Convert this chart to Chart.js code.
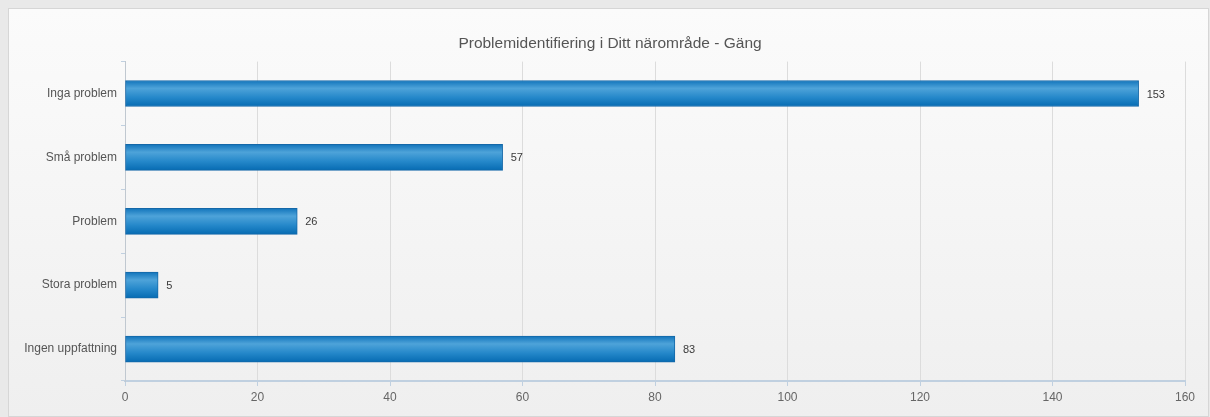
<!DOCTYPE html>
<html>
<head>
<meta charset="utf-8">
<script src="https://cdn.jsdelivr.net/npm/chart.js@4"></script>
<style>
	body {
		margin: 0;
		width: 1210px;
		height: 417px;
		background: #e9e9e9;
		overflow: hidden;
		font-family: "Liberation Sans", Arial, sans-serif;
	}
	.panel {
		position: absolute;
		left: 8px;
		top: 8px;
		width: 1199px;
		height: 407px;
		border: 1px solid #d6d6d6;
		background: linear-gradient(#fbfbfb, #efefef);
	}
	#chart {
		position: absolute;
		left: 0;
		top: 0;
	}
</style>
</head>
<body>
<div class="panel"></div>
<canvas id="chart" width="1210" height="417"></canvas>
<script>
// Data
const categories = ["Inga problem", "Små problem", "Problem", "Stora problem", "Ingen uppfattning"];
const answers = [153, 57, 26, 5, 83];
const xTicks = [0, 20, 40, 60, 80, 100, 120, 140, 160];
const chartTitle = "Problemidentifiering i Ditt närområde - Gäng";

const fontFamily = "'Liberation Sans', Arial, sans-serif";

// Vertical gradient per bar, like the glossy blue bars in the original
function barGradient(context) {
	const chart = context.chart;
	if (!chart.chartArea || !chart.scales.y) return "#1f82c6";
	const y = chart.scales.y.getPixelForValue(context.dataIndex);
	const top = y - 13;
	const g = chart.ctx.createLinearGradient(0, top, 0, top + 26);
	g.addColorStop(0, "#1174bb");
	g.addColorStop(0.3, "#4ea3d9");
	g.addColorStop(0.65, "#2588ca");
	g.addColorStop(1, "#066bb2");
	return g;
}

// Value labels at the end of each bar
const valueLabels = {
	id: "valueLabels",
	afterDatasetsDraw(chart) {
		const ctx = chart.ctx;
		const meta = chart.getDatasetMeta(0);
		ctx.save();
		ctx.font = "11px " + fontFamily;
		ctx.fillStyle = "#3a3a3a";
		ctx.textBaseline = "middle";
		ctx.textAlign = "left";
		meta.data.forEach((bar, i) => {
			ctx.fillText(answers[i], bar.x + 8, bar.y + 1);
		});
		ctx.restore();
	},
};

const ctx = document.getElementById("chart").getContext("2d");
const chart = new Chart(ctx, {
	type: "bar",
	data: {
		labels: categories,
		datasets: [
			{
				data: answers,
				backgroundColor: barGradient,
				borderColor: "#1468a8",
				borderWidth: 1,
				borderSkipped: false,
				barThickness: 26,
			},
		],
	},
	options: {
		indexAxis: "y",
		responsive: false,
		animation: false,
		layout: {
			padding: { left: 10, right: 0, top: 0, bottom: 0 },
		},
		plugins: {
			legend: { display: false },
			tooltip: { enabled: false },
			title: {
				display: true,
				text: chartTitle,
				color: "#555555",
				font: { size: 15.5, weight: "normal", family: fontFamily },
				padding: { top: 34, bottom: 9 },
			},
		},
		scales: {
			x: {
				min: 0,
				max: 160,
				afterBuildTicks: (axis) => {
					axis.ticks = xTicks.map((v) => ({ value: v }));
				},
				afterFit: (axis) => {
					axis.height = 36;
				},
				grid: {
					color: "#dcdcdc",
					tickColor: "#c0d0e0",
					tickLength: 5,
				},
				border: { color: "#c0d0e0", width: 2 },
				ticks: {
					color: "#666666",
					padding: 4,
					font: { size: 12, family: fontFamily },
				},
			},
			y: {
				afterFit: (axis) => {
					axis.width = 115;
				},
				grid: {
					offset: true,
					drawOnChartArea: false,
					tickColor: "#c0d0e0",
					tickLength: 4,
				},
				border: { color: "#c0c8d0", width: 1 },
				ticks: {
					color: "#555555",
					padding: 4,
					font: { size: 12, family: fontFamily },
				},
			},
			// empty spacer on the right so the title centres on the panel
			yRight: {
				type: "linear",
				axis: "y",
				position: "right",
				afterFit: (axis) => {
					axis.width = 25;
				},
				grid: { display: false },
				border: { display: false },
				ticks: { display: false },
			},
		},
	},
	plugins: [valueLabels],
});
</script>
</body>
</html>
